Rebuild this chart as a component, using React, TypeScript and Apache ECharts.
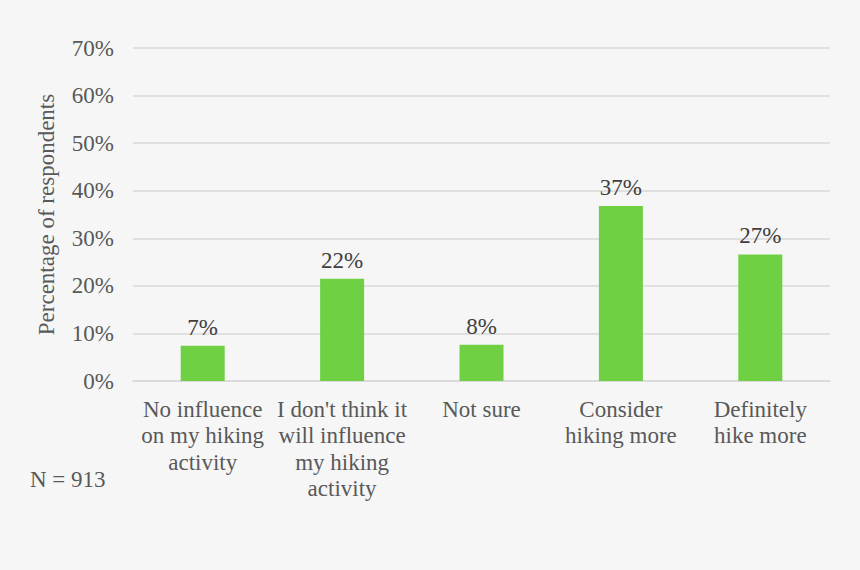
import React, { useEffect, useRef } from "react";
import * as echarts from "echarts";

const categories = [
  "No influence\non my hiking\nactivity",
  "I don't think it\nwill influence\nmy hiking\nactivity",
  "Not sure",
  "Consider\nhiking more",
  "Definitely\nhike more",
];
const values = [7.4, 21.5, 7.6, 36.8, 26.6];
const yTicks = [0, 10, 20, 30, 40, 50, 60, 70];
const yAxisTitle = "Percentage of respondents";
const footnote = "N = 913";

const FONT = "'Liberation Serif', 'Times New Roman', serif";
const FS = 23;

export default function App() {
  const ref = useRef<HTMLDivElement>(null);
  useEffect(() => {
    const chart = echarts.init(ref.current!, null, { renderer: "svg" });
    chart.setOption({
      animation: false,
      backgroundColor: "#f6f6f6",
      textStyle: { fontFamily: FONT },
      grid: { left: 133, right: 30, top: 48, bottom: 189, containLabel: false },
      xAxis: {
        type: "category",
        data: categories,
        axisLine: { show: true, lineStyle: { color: "#d9d9d9", width: 1.5 } },
        axisTick: { show: false },
        axisLabel: {
          color: "#595959",
          fontFamily: FONT,
          fontSize: FS,
          lineHeight: 26.5,
          margin: 15,
          interval: 0,
        },
      },
      yAxis: {
        type: "value",
        min: yTicks[0],
        max: yTicks[yTicks.length - 1],
        interval: 10,
        name: yAxisTitle,
        nameLocation: "middle",
        nameGap: 75,
        nameRotate: 90,
        nameTextStyle: { color: "#595959", fontFamily: FONT, fontSize: FS },
        axisLine: { show: false },
        axisTick: { show: false },
        axisLabel: {
          color: "#595959",
          fontFamily: FONT,
          fontSize: FS,
          margin: 19,
          formatter: (v: number) => `${v}%`,
        },
        splitLine: { lineStyle: { color: "#d9d9d9", width: 1.5 } },
      },
      series: [
        {
          type: "bar",
          data: values,
          barWidth: 44,
          itemStyle: { color: "#70d044" },
          label: {
            show: true,
            position: "top",
            distance: 7,
            color: "#404040",
            fontFamily: FONT,
            fontSize: FS,
            formatter: (p: any) => `${Math.round(p.value)}%`,
          },
        },
      ],
      graphic: [
        {
          type: "text",
          left: 30,
          top: 468,
          style: { text: footnote, fill: "#595959", font: `${FS}px ${FONT}` },
        },
      ],
    });
    return () => chart.dispose();
  }, []);
  return (
    <div
      ref={ref}
      style={{ position: "fixed", left: 0, top: 0, width: 860, height: 570 }}
    />
  );
}
